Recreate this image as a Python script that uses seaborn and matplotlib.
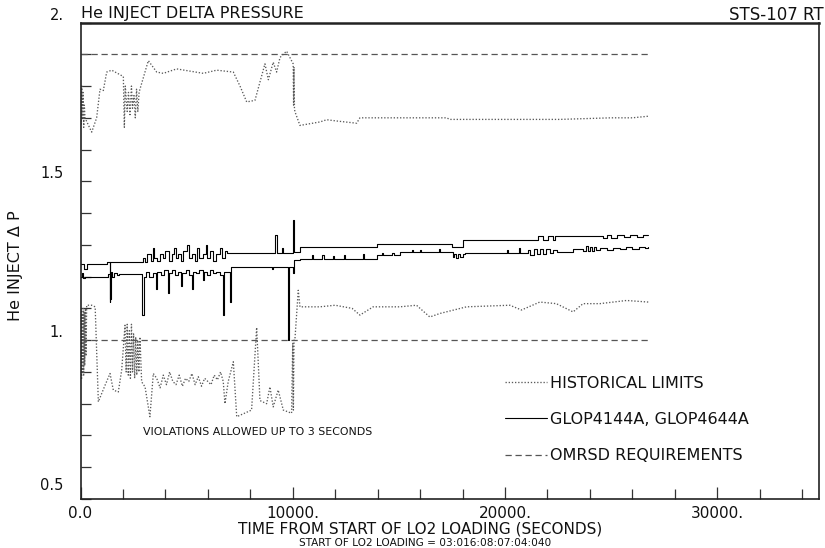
import matplotlib
matplotlib.use('Agg')
import matplotlib.pyplot as plt
import matplotlib.transforms as mtransforms
from matplotlib.ticker import MultipleLocator
import seaborn as sns

# values (time in seconds, delta P)
omrsd_t = [0, 26750]
omrsd_hi = [1.9, 1.9]
omrsd_lo = [1.0, 1.0]

hist_hi_t = [0, 30, 60, 90, 120, 150, 180, 210, 527, 760,
             918, 1075, 1233, 1468, 2018, 2065, 2110, 2200, 2260, 2330,
             2400, 2450, 2520, 2580, 2640, 2700, 2760, 2800, 3195, 3590,
             3900, 4530, 5785, 6415, 7200, 7515, 7830, 8220, 8690, 8850,
             9080, 9240, 9400, 9710, 10020, 10040, 10060, 10080, 10100, 10340,
             11280, 11600, 12070, 13010, 13165, 17250, 17400, 22580, 25000, 26000,
             26750]
hist_hi_v = [1.75, 1.68, 1.80, 1.70, 1.78, 1.67, 1.74, 1.70, 1.655, 1.70,
             1.79, 1.786, 1.844, 1.85, 1.83, 1.67, 1.80, 1.72, 1.78, 1.71,
             1.80, 1.73, 1.77, 1.70, 1.79, 1.72, 1.78, 1.79, 1.88, 1.844,
             1.84, 1.854, 1.84, 1.85, 1.844, 1.80, 1.75, 1.755, 1.87, 1.82,
             1.875, 1.844, 1.89, 1.91, 1.87, 1.74, 1.86, 1.73, 1.72, 1.676,
             1.687, 1.694, 1.69, 1.683, 1.70, 1.70, 1.695, 1.695, 1.70, 1.70,
             1.705]

hist_lo_t = [0, 25, 50, 75, 100, 125, 150, 175, 200, 230,
             260, 290, 527, 690, 840, 1155, 1390, 1545, 1780, 1940,
             2096, 2150, 2200, 2250, 2300, 2350, 2400, 2450, 2500, 2550,
             2600, 2650, 2700, 2750, 2800, 2880, 3040, 3270, 3430, 3590,
             3750, 3900, 4050, 4200, 4350, 4500, 4650, 4800, 4950, 5100,
             5250, 5400, 5550, 5700, 5850, 6000, 6150, 6300, 6450, 6600,
             6725, 6805, 6960, 7200, 7360, 8060, 8300, 8455, 8770, 8925,
             9080, 9315, 9555, 9945, 10000, 10030, 10060, 10100, 10260, 10340,
             11280, 12000, 12800, 13165, 13790, 15050, 15830, 16460, 16930, 18190,
             20230, 20780, 21640, 22420, 23210, 23680, 24470, 25100, 25730, 26750]
hist_lo_v = [0.90, 1.10, 0.88, 1.08, 0.90, 1.10, 0.89, 1.09, 0.92, 1.10,
             0.95, 1.11, 1.11, 1.105, 0.806, 0.858, 0.895, 0.843, 0.837, 0.906,
             1.047, 0.90, 1.05, 0.89, 1.03, 0.88, 1.05, 0.90, 1.02, 0.88,
             1.01, 0.89, 1.00, 0.90, 1.01, 0.869, 0.853, 0.759, 0.895, 0.88,
             0.85, 0.89, 0.86, 0.90, 0.87, 0.86, 0.89, 0.855, 0.88, 0.87,
             0.895, 0.86, 0.885, 0.855, 0.88, 0.87, 0.86, 0.89, 0.875, 0.90,
             0.87, 0.80, 0.87, 0.932, 0.759, 0.78, 1.04, 0.81, 0.80, 0.853,
             0.79, 0.843, 0.78, 0.77, 0.99, 0.78, 1.00, 1.00, 1.157, 1.105,
             1.105, 1.11, 1.10, 1.079, 1.105, 1.105, 1.11, 1.073, 1.084, 1.105,
             1.11, 1.095, 1.12, 1.115, 1.089, 1.115, 1.115, 1.12, 1.125, 1.12]

glop_a_t = [0, 170, 290, 1240, 1380, 1410, 2960, 3050, 3150, 3300,
            3400, 3480, 3600, 3750, 3900, 4000, 4150, 4300, 4400, 4480,
            4600, 4750, 4850, 5040, 5100, 5250, 5400, 5500, 5600, 5750,
            5900, 5980, 6100, 6250, 6400, 6550, 6650, 6800, 6900, 9180,
            9260, 9500, 9560, 10000, 10060, 10340, 13950, 17490, 18030, 21570,
            21800, 22050, 22250, 22350, 24600, 24800, 25000, 25300, 25600, 25900,
            26200, 26500, 26750]
glop_a_v = [1.241, 1.225, 1.241, 1.246, 1.12, 1.246, 1.26, 1.245, 1.27, 1.25,
            1.29, 1.26, 1.25, 1.27, 1.26, 1.28, 1.25, 1.27, 1.29, 1.26,
            1.27, 1.25, 1.28, 1.30, 1.26, 1.27, 1.25, 1.29, 1.26, 1.27,
            1.30, 1.26, 1.28, 1.25, 1.27, 1.29, 1.26, 1.28, 1.273, 1.33,
            1.273, 1.29, 1.273, 1.377, 1.278, 1.293, 1.304, 1.293, 1.314, 1.327,
            1.314, 1.327, 1.314, 1.327, 1.323, 1.33, 1.322, 1.33, 1.324, 1.331,
            1.325, 1.332, 1.332]

glop_b_t = [0, 60, 120, 200, 1300, 1390, 1430, 1500, 1600, 1700,
            1800, 2920, 2980, 3100, 3250, 3400, 3570, 3620, 3800, 3950,
            4120, 4180, 4300, 4450, 4600, 4750, 4800, 4950, 5100, 5250,
            5300, 5450, 5600, 5750, 5800, 5950, 6100, 6250, 6400, 6550,
            6720, 6760, 7030, 7070, 9000, 9060, 9790, 9830, 10030, 10080,
            10340, 10900, 10950, 11400, 11450, 11900, 11950, 12400, 12450, 13300,
            13350, 13950, 14200, 14250, 14700, 14750, 15050, 15600, 15650, 16000,
            16050, 16900, 16950, 17550, 17600, 17700, 17800, 17900, 18000, 18110,
            20080, 20120, 20650, 20700, 21080, 21200, 21350, 21500, 21650, 21800,
            21950, 22100, 22250, 22450, 23200, 23700, 23800, 23900, 24000, 24100,
            24200, 24300, 24500, 24800, 25100, 25400, 25700, 26000, 26300, 26600,
            26750]
glop_b_v = [1.199, 1.21, 1.195, 1.199, 1.207, 1.13, 1.215, 1.20, 1.21, 1.205,
            1.207, 1.08, 1.20, 1.215, 1.20, 1.21, 1.16, 1.215, 1.205, 1.22,
            1.15, 1.21, 1.22, 1.205, 1.215, 1.17, 1.21, 1.22, 1.205, 1.16,
            1.215, 1.21, 1.22, 1.19, 1.215, 1.205, 1.22, 1.21, 1.215, 1.205,
            1.08, 1.215, 1.12, 1.23, 1.225, 1.23, 1.00, 1.23, 1.21, 1.252,
            1.257, 1.268, 1.257, 1.268, 1.257, 1.265, 1.257, 1.268, 1.257, 1.27,
            1.257, 1.267, 1.275, 1.267, 1.275, 1.267, 1.278, 1.285, 1.278, 1.285,
            1.278, 1.288, 1.278, 1.262, 1.272, 1.26, 1.27, 1.262, 1.272, 1.273,
            1.285, 1.273, 1.29, 1.273, 1.285, 1.268, 1.288, 1.27, 1.287, 1.272,
            1.287, 1.275, 1.285, 1.278, 1.288, 1.28, 1.295, 1.282, 1.293, 1.281,
            1.292, 1.283, 1.29, 1.284, 1.29, 1.286, 1.292, 1.287, 1.293, 1.29,
            1.294]

x_ticks = [0, 10000, 20000, 30000]
x_tick_labels = ['0.0', '10000.', '20000.', '30000.']
y_ticks = [0.5, 1.0, 1.5, 2.0]
y_tick_labels = ['0.5', '1.', '1.5', '2.']

# Style
sns.set_style("ticks")
plt.rcParams['font.family'] = ['DejaVu Sans']
plt.rcParams['text.color'] = '#111111'
plt.rcParams['xtick.color'] = '#333333'
plt.rcParams['ytick.color'] = '#333333'
plt.rcParams['xtick.labelcolor'] = '#111111'
plt.rcParams['ytick.labelcolor'] = '#111111'
plt.rcParams['axes.labelcolor'] = '#111111'

fig = plt.figure(figsize=(8.25, 5.48), dpi=100)
ax = fig.add_axes([0.0976, 0.0894, 0.8952, 0.8695])

dot = dict(color='#5a5a5a', linewidth=0.95, linestyle=(0, (1, 1.4)))
dash = dict(color='#555555', linewidth=0.9, linestyle=(0, (5, 3)))
solid = dict(color='black', linewidth=0.8, drawstyle='steps-post')

sns.lineplot(x=hist_hi_t, y=hist_hi_v, ax=ax, sort=False, estimator=None, **dot)
h_hist = ax.lines[-1]
sns.lineplot(x=hist_lo_t, y=hist_lo_v, ax=ax, sort=False, estimator=None, **dot)
sns.lineplot(x=glop_a_t, y=glop_a_v, ax=ax, sort=False, estimator=None, **solid)
h_glop = ax.lines[-1]
sns.lineplot(x=glop_b_t, y=glop_b_v, ax=ax, sort=False, estimator=None, **solid)
sns.lineplot(x=omrsd_t, y=omrsd_hi, ax=ax, sort=False, estimator=None, **dash)
h_omrsd = ax.lines[-1]
sns.lineplot(x=omrsd_t, y=omrsd_lo, ax=ax, sort=False, estimator=None, **dash)

ax.set_xlim(0, 34800)
ax.set_ylim(0.5, 2.0)
ax.set_xticks(x_ticks)
ax.set_xticklabels(x_tick_labels, fontsize=11)
ax.set_yticks(y_ticks)
ax.set_yticklabels(y_tick_labels, fontsize=10.5)
ax.xaxis.set_minor_locator(MultipleLocator(2000))
ax.yaxis.set_minor_locator(MultipleLocator(0.1))
ax.tick_params(which='both', direction='in', width=0.9,
               bottom=True, left=True, top=False, right=False)
ax.tick_params(axis='x', which='major', length=9, pad=5)
ax.tick_params(axis='x', which='minor', length=7)
ax.tick_params(axis='y', which='both', length=7, pad=12)
for lab in ax.get_yticklabels():
    lab.set_va('bottom')
ax.get_yticklabels()[0].set_transform(
    ax.get_yticklabels()[0].get_transform()
    + mtransforms.ScaledTranslation(0, 6 / 100, fig.dpi_scale_trans))

for side in ['left', 'bottom', 'right']:
    ax.spines[side].set_visible(True)
    ax.spines[side].set_linewidth(1.2)
    ax.spines[side].set_color('#222222')
ax.spines['top'].set_visible(True)
ax.spines['top'].set_linewidth(1.8)
ax.spines['top'].set_color('#222222')

ax.set_xlabel('TIME FROM START OF LO2 LOADING (SECONDS)', fontsize=11, va='center')
ax.xaxis.set_label_coords(0.46, -0.063)
ax.set_ylabel('He INJECT \u0394 P', fontsize=11.5, va='center')
ax.yaxis.set_label_coords(-0.0887, 0.49)

fig.text(425 / 825, 1 - 543 / 548, 'START OF LO2 LOADING = 03:016:08:07:04:040',
         fontsize=7.6, ha='center', va='center')
ax.text(0.0, 1.003, 'He INJECT DELTA PRESSURE', transform=ax.transAxes,
        fontsize=11.5, ha='left', va='bottom')
fig.text(0.998, 1 - 15 / 548, 'STS-107 RT', fontsize=12, ha='right', va='center')
ax.text(2944, 0.71, 'VIOLATIONS ALLOWED UP TO 3 SECONDS', fontsize=7.9, va='center')

ax.legend([h_hist, h_glop, h_omrsd],
          ['HISTORICAL LIMITS', 'GLOP4144A, GLOP4644A', 'OMRSD REQUIREMENTS'],
          loc='upper left', bbox_to_anchor=(0.575, 0.259), frameon=False, fontsize=11.5,
          handlelength=2.6, handletextpad=0.2, labelspacing=1.34,
          borderpad=0, borderaxespad=0)

plt.savefig('out.png', dpi=100)
plt.close()
